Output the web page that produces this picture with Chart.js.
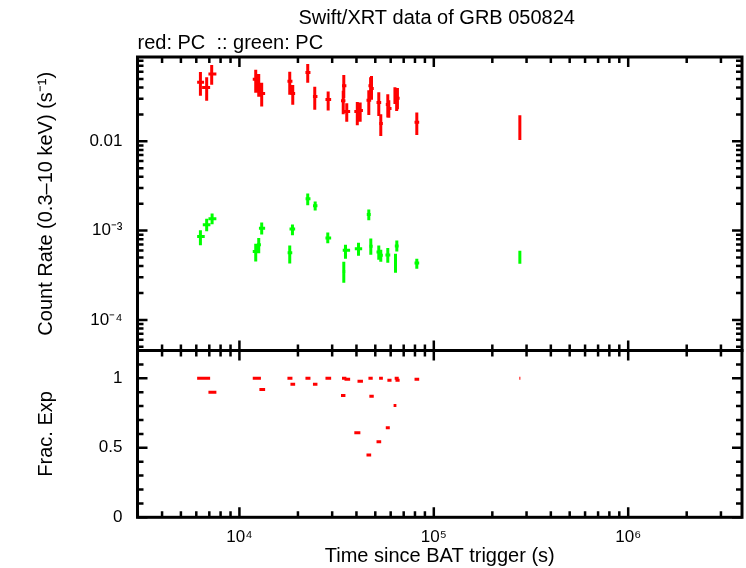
<!DOCTYPE html>
<html>
<head>
<meta charset="utf-8">
<script src="https://cdn.jsdelivr.net/npm/chart.js@4.4.1/dist/chart.umd.min.js"></script>
<style>
  html, body { margin: 0; padding: 0; background: #fff; }
  #wrap { position: relative; width: 746px; height: 568px; }
  #wrap canvas { position: absolute; left: 0; top: 0; }
</style>
</head>
<body>
<div id="wrap">
  <canvas id="rateChart" width="746" height="568"></canvas>
  <canvas id="expChart" width="746" height="568"></canvas>
</div>
<script>
// red: PC count rate bins (time in s, rate in counts/s)
const redTime   = [6300, 6785, 7200, 12130, 12570, 13020, 18150, 18810, 22460, 24410, 28610, 34430, 34200, 35660, 40400, 41800, 46300, 47800, 47300, 52110, 53360, 57980, 58670, 63100, 64400, 65000, 81760, 277100];
const redTimeLo = [6060, 6427, 6927, 11710, 12300, 12670, 17660, 18300, 21860, 23890, 27710, 33700, 33300, 34710, 39000, 40500, 45050, 46600, 46100, 50730, 52300, 56620, 57700, 62100, 62900, 63500, 79580, 275500];
const redTimeHi = [6580, 7068, 7612, 12570, 12900, 13560, 18740, 19350, 23200, 25200, 29640, 35500, 35100, 37120, 41900, 43200, 47620, 49100, 48500, 53620, 54700, 59370, 60600, 64200, 66000, 66700, 84110, 278800];
const redRate   = [0.0457, 0.0401, 0.0566, 0.0494, 0.0415, 0.0343, 0.0469, 0.0343, 0.0591, 0.0318, 0.0294, 0.0420, 0.0284, 0.0216, 0.0216, 0.0221, 0.0289, 0.0391, 0.0420, 0.0272, 0.0158, 0.0258, 0.0233, 0.0329, 0.0287, 0.0304, 0.01635, 0.01426];
const redRateLo = [0.0323, 0.0284, 0.0429, 0.0349, 0.0315, 0.0245, 0.0331, 0.0256, 0.0452, 0.0225, 0.0221, 0.0304, 0.0201, 0.0165, 0.0151, 0.0165, 0.0197, 0.0291, 0.0330, 0.0192, 0.01147, 0.0185, 0.0183, 0.0262, 0.0219, 0.0229, 0.01177, 0.01034];
const redRateHi = [0.0596, 0.0520, 0.0714, 0.0633, 0.0566, 0.0452, 0.0601, 0.0426, 0.0733, 0.0407, 0.0362, 0.0552, 0.0367, 0.0267, 0.0276, 0.0272, 0.0374, 0.0537, 0.0520, 0.0355, 0.0201, 0.0337, 0.0289, 0.0404, 0.0384, 0.0394, 0.0210, 0.0196];
const redFrac   = [1.0, 1.0, 0.90, 1.0, 1.0, 0.92, 1.0, 0.957, 1.0, 0.957, 1.0, 1.0, 0.877, 0.993, 0.609, 0.978, 0.449, 0.870, 1.0, 0.543, 1.0, 0.645, 0.986, 0.804, 1.0, 0.986, 0.993, 1.0];

// green: PC count rate bins
const greenTime   = [6300, 6785, 7235, 12130, 12570, 13020, 18150, 18740, 22460, 24530, 28480, 34430, 35120, 40980, 46300, 47410, 52110, 53360, 57980, 63530, 64520, 81760, 277100];
const greenTimeLo = [6060, 6480, 6930, 11710, 12300, 12600, 17700, 18100, 21900, 23900, 27710, 33800, 34000, 39220, 45200, 46500, 50730, 52300, 56400, 62500, 63000, 79580, 275500];
const greenTimeHi = [6630, 7090, 7610, 12570, 12900, 13560, 18700, 19350, 23200, 25200, 29640, 35100, 37100, 42810, 47400, 48500, 53620, 54700, 59700, 64500, 66000, 84110, 278800];
const greenRate   = [0.000856, 0.001159, 0.001353, 0.000585, 0.000696, 0.001061, 0.000566, 0.001045, 0.002271, 0.001895, 0.000828, 0.000349, 0.000601, 0.000628, 0.001513, 0.000666, 0.000576, 0.000528, 0.000533, 0.000457, 0.000673, 0.000434, 0.000514];
const greenRateLo = [0.000684, 0.000982, 0.001177, 0.000452, 0.000556, 0.000902, 0.000429, 0.000886, 0.001925, 0.001678, 0.000720, 0.000260, 0.000485, 0.000524, 0.001305, 0.000537, 0.000472, 0.000448, 0.000437, 0.000337, 0.000585, 0.000374, 0.000426];
const greenRateHi = [0.001008, 0.001353, 0.001552, 0.000714, 0.000828, 0.001230, 0.000679, 0.001168, 0.002604, 0.002117, 0.000950, 0.000448, 0.000696, 0.000733, 0.001722, 0.000813, 0.000679, 0.000612, 0.000639, 0.000552, 0.000772, 0.000485, 0.000596];

// axes
const timeMin = 2990, timeMax = 3.85e6;
const rateMin = 4.54e-5, rateMax = 0.0879;
const fracMin = 0, fracMax = 1.2;
const timeMajor = [1e4, 1e5, 1e6];
const timeLabels = ['10\u2074', '10\u2075', '10\u2076'];
const rateMajor = [1e-4, 1e-3, 0.01];
const rateLabels = ['10\u207B\u2074', '10\u207B\u00B3', '0.01'];
const fracMajor = [0, 0.5, 1];
const fracLabels = ['0', '0.5', '1'];

const FONT = "'Liberation Sans', Arial, sans-serif";
Chart.defaults.font.family = FONT;
Chart.defaults.color = '#000';

function logTicks(min, max) {
  const out = [];
  for (let d = Math.floor(Math.log10(min)); d <= Math.ceil(Math.log10(max)); d++) {
    for (let m = 1; m <= 9; m++) {
      const v = m * Math.pow(10, d);
      if (v >= min * 0.9999 && v <= max * 1.0001) out.push(v);
    }
  }
  return out;
}
function linTicks(min, max, step) {
  const out = [];
  for (let i = 0; min + i * step <= max + 1e-9; i++) out.push(+(min + i * step).toFixed(6));
  return out;
}
function labelFor(v, majors, labels) {
  const i = majors.findIndex(m => Math.abs(v - m) <= Math.abs(m) * 1e-6 + 1e-12);
  return i < 0 ? '' : labels[i];
}
function isMajor(v, majors) {
  return labelFor(v, majors, majors.map(() => 'x')) !== '';
}

// error bars as line segments separated by gaps
function errorBars(t, tLo, tHi, v, vLo, vHi) {
  const pts = [];
  t.forEach((x, i) => {
    pts.push({x: tLo[i], y: v[i]}, {x: tHi[i], y: v[i]}, {x: x, y: null});
    pts.push({x: x, y: vLo[i]}, {x: x, y: vHi[i]}, {x: x, y: null});
  });
  return pts;
}
function fracBars(tLo, tHi, f) {
  const pts = [];
  f.forEach((y, i) => {
    pts.push({x: tLo[i], y: y}, {x: tHi[i], y: y}, {x: tLo[i], y: null});
  });
  return pts;
}
function lineSet(data, color) {
  return {data, borderColor: color, backgroundColor: color, borderWidth: 3,
          pointRadius: 0, spanGaps: false, tension: 0, borderCapStyle: 'butt', fill: false};
}

// gnuplot-like frame with inward ticks on all four sides
const frame = {
  id: 'frame',
  afterDraw(chart) {
    const {ctx, chartArea: a, scales} = chart;
    const xs = scales.x, ys = scales.y;
    const opts = chart.options.plugins.frame;
    ctx.save();
    ctx.strokeStyle = '#000';
    ctx.lineWidth = 2.5;
    xs.ticks.forEach(t => {
      const px = xs.getPixelForValue(t.value);
      const len = isMajor(t.value, opts.xMajor) ? 10 : 6;
      ctx.beginPath();
      ctx.moveTo(px, a.bottom); ctx.lineTo(px, a.bottom - len);
      ctx.moveTo(px, a.top); ctx.lineTo(px, a.top + len);
      ctx.stroke();
    });
    ys.ticks.forEach(t => {
      const py = ys.getPixelForValue(t.value);
      const len = isMajor(t.value, opts.yMajor) ? 10 : 6;
      ctx.beginPath();
      ctx.moveTo(a.left, py); ctx.lineTo(a.left + len, py);
      ctx.moveTo(a.right, py); ctx.lineTo(a.right - len, py);
      ctx.stroke();
    });
    ctx.lineWidth = 3;
    ctx.strokeRect(a.left, a.top, a.right - a.left, a.bottom - a.top);
    if (opts.title) {
      ctx.fillStyle = '#000';
      ctx.font = '20px ' + FONT;
      ctx.textBaseline = 'middle';
      ctx.textAlign = 'center';
      ctx.fillText(opts.title, (a.left + a.right) / 2 - 3, 18);
      ctx.textAlign = 'left';
      ctx.fillText(opts.subtitle, a.left, 43);
    }
    ctx.restore();
  }
};

const timeTickList = logTicks(timeMin, timeMax);

new Chart(document.getElementById('rateChart'), {
  type: 'line',
  data: {
    datasets: [
      lineSet(errorBars(redTime, redTimeLo, redTimeHi, redRate, redRateLo, redRateHi), '#ff0000'),
      lineSet(errorBars(greenTime, greenTimeLo, greenTimeHi, greenRate, greenRateLo, greenRateHi), '#00ff00')
    ]
  },
  options: {
    responsive: false, animation: false, devicePixelRatio: 1,
    layout: {padding: {top: 57, left: 0, right: 4, bottom: 217.5}},
    plugins: {
      legend: {display: false}, tooltip: {enabled: false},
      frame: {xMajor: timeMajor, yMajor: rateMajor,
              title: 'Swift/XRT data of GRB 050824', subtitle: 'red: PC  :: green: PC'}
    },
    scales: {
      x: {
        type: 'logarithmic', min: timeMin, max: timeMax,
        afterBuildTicks: s => { s.ticks = timeTickList.map(v => ({value: v})); },
        ticks: {display: false, autoSkip: false},
        grid: {display: false, drawTicks: false}, border: {display: false},
        afterFit: s => { s.height = 0; }
      },
      y: {
        type: 'logarithmic', min: rateMin, max: rateMax,
        afterBuildTicks: s => { s.ticks = logTicks(rateMin, rateMax).map(v => ({value: v})); },
        ticks: {autoSkip: false, padding: 15, font: {size: 17}, callback: v => labelFor(v, rateMajor, rateLabels)},
        grid: {display: false, drawTicks: false}, border: {display: false},
        title: {display: true, text: 'Count Rate (0.3\u201310 keV) (s\u207B\u00B9)', font: {size: 20}, padding: {top: 34.5, bottom: 0}},
        afterFit: s => { s.width = 137.5; }
      }
    }
  },
  plugins: [frame]
});

new Chart(document.getElementById('expChart'), {
  type: 'line',
  data: {
    datasets: [lineSet(fracBars(redTimeLo, redTimeHi, redFrac), '#ff0000')]
  },
  options: {
    responsive: false, animation: false, devicePixelRatio: 1,
    layout: {padding: {top: 350.5, left: 0, right: 4, bottom: 0}},
    plugins: {
      legend: {display: false}, tooltip: {enabled: false},
      frame: {xMajor: timeMajor, yMajor: fracMajor}
    },
    scales: {
      x: {
        type: 'logarithmic', min: timeMin, max: timeMax,
        afterBuildTicks: s => { s.ticks = timeTickList.map(v => ({value: v})); },
        ticks: {autoSkip: false, maxRotation: 0, minRotation: 0, padding: 10, font: {size: 17},
                callback: v => labelFor(v, timeMajor, timeLabels)},
        grid: {display: false, drawTicks: false}, border: {display: false},
        title: {display: true, text: 'Time since BAT trigger (s)', font: {size: 20}, padding: {top: 0, bottom: 0}},
        afterFit: s => { s.height = 50.7; }
      },
      y: {
        type: 'linear', min: fracMin, max: fracMax,
        afterBuildTicks: s => { s.ticks = linTicks(fracMin, fracMax, 0.1).map(v => ({value: v})); },
        ticks: {autoSkip: false, padding: 15, font: {size: 17}, callback: v => labelFor(v, fracMajor, fracLabels)},
        grid: {display: false, drawTicks: false}, border: {display: false},
        title: {display: true, text: 'Frac. Exp', font: {size: 20}, padding: {top: 34.5, bottom: 0}},
        afterFit: s => { s.width = 137.5; }
      }
    }
  },
  plugins: [frame]
});
</script>
</body>
</html>
